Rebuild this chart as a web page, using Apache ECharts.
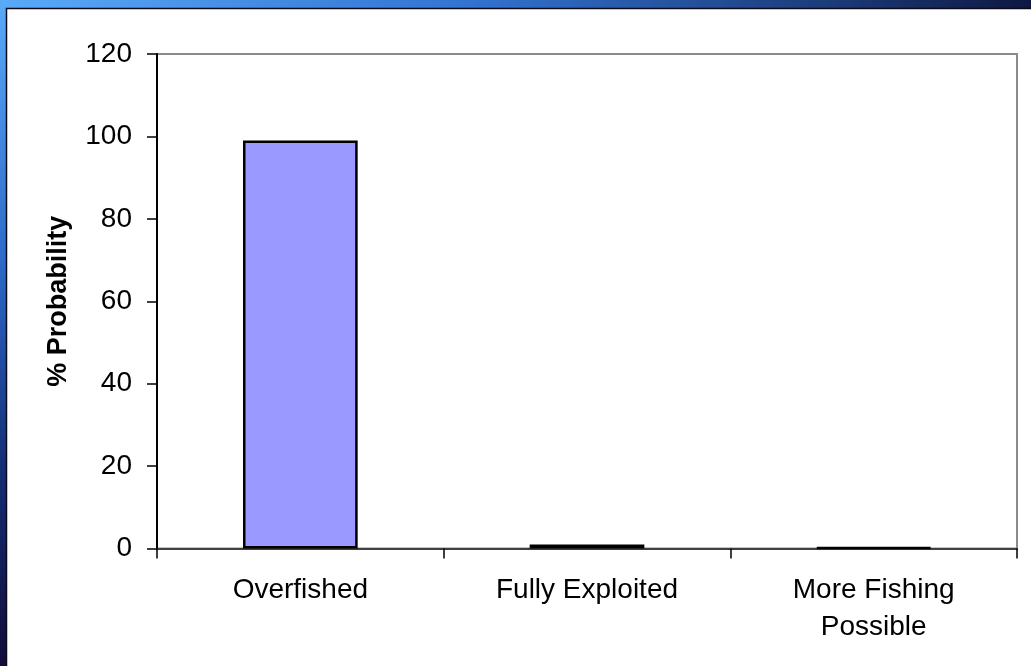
<!DOCTYPE html>
<html>
<head>
<meta charset="utf-8">
<style>
  html, body { margin: 0; padding: 0; background: #fff; }
  #chart { width: 1031px; height: 666px; }
</style>
<script src="https://cdn.jsdelivr.net/npm/echarts@6/dist/echarts.min.js"></script>
</head>
<body>
<div id="chart"></div>
<script>
// Stock status categories and their estimated probabilities (%)
const categories = ['Overfished', 'Fully Exploited', 'More Fishing\nPossible'];
const probability = [99, 1, 0.2];
const yTicks = { min: 0, max: 120, interval: 20 };

const chart = echarts.init(document.getElementById('chart'), null, { renderer: 'canvas' });
const W = 1031, H = 666;
const FONT = '"Liberation Sans", Arial, sans-serif';

chart.setOption({
  animation: false,
  backgroundColor: '#ffffff',
  graphic: [
    // slide frame: blue gradient strip along the top edge
    {
      type: 'rect', silent: true, z: -10,
      shape: { x: 0, y: 0, width: W, height: 8 },
      style: {
        fill: new echarts.graphic.LinearGradient(0, 0, 1, 0, [
          { offset: 0, color: '#5aaaf8' },
          { offset: 0.45, color: '#3274d2' },
          { offset: 0.8, color: '#1c3c7a' },
          { offset: 1, color: '#0e1842' }
        ])
      }
    },
    // slide frame: blue gradient strip along the left edge
    {
      type: 'rect', silent: true, z: -10,
      shape: { x: 0, y: 0, width: 6, height: H },
      style: {
        fill: new echarts.graphic.LinearGradient(0, 0, 0, 1, [
          { offset: 0, color: '#5aaaf8' },
          { offset: 0.4, color: '#2c68c8' },
          { offset: 0.7, color: '#142e74' },
          { offset: 1, color: '#120c3a' }
        ])
      }
    },
    // thin dark edge around the white panel
    {
      type: 'polyline', silent: true, z: -9,
      shape: { points: [[6.5, H], [6.5, 8.5], [W, 8.5]] },
      style: { stroke: '#0a0a1a', lineWidth: 1.5, fill: null }
    }
  ],
  grid: {
    left: 157, right: 14, top: 54, bottom: 117.5,
    show: true, borderColor: '#8a8a8a', borderWidth: 2, backgroundColor: 'transparent'
  },
  xAxis: {
    type: 'category',
    data: categories,
    axisLine: { show: true, lineStyle: { color: '#404040', width: 2 } },
    axisTick: { show: true, alignWithLabel: false, length: 10, lineStyle: { color: '#000', width: 1.5 } },
    axisLabel: {
      color: '#000', fontFamily: FONT, fontSize: 28, lineHeight: 37, margin: 23
    },
    splitLine: { show: false }
  },
  yAxis: {
    type: 'value',
    min: yTicks.min, max: yTicks.max, interval: yTicks.interval,
    name: '% Probability',
    nameLocation: 'middle',
    nameRotate: 90,
    nameGap: 85,
    nameTextStyle: { color: '#000', fontFamily: FONT, fontSize: 27, fontWeight: 'bold' },
    axisLine: { show: true, lineStyle: { color: '#000', width: 2 } },
    axisTick: { show: true, length: 10, lineStyle: { color: '#000', width: 1.5 } },
    axisLabel: { color: '#000', fontFamily: FONT, fontSize: 28, margin: 25 },
    splitLine: { show: false }
  },
  series: [{
    type: 'bar',
    data: probability,
    barCategoryGap: '60%',
    itemStyle: { color: '#9999ff', borderColor: '#000', borderWidth: 2.5 }
  }]
});
</script>
</body>
</html>
